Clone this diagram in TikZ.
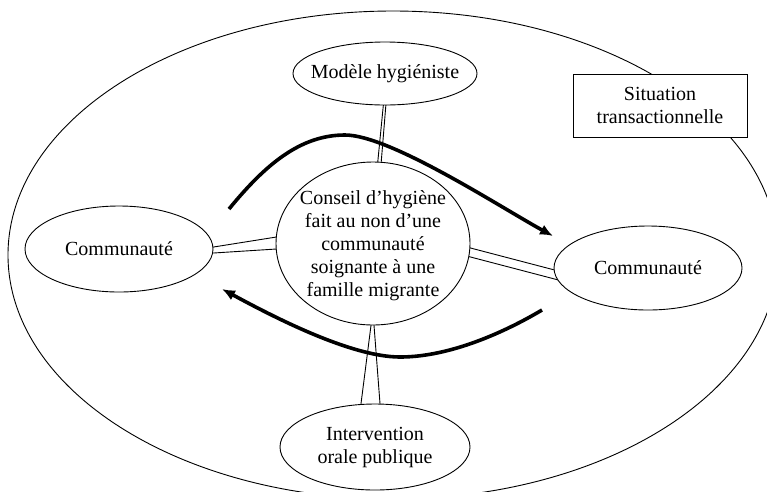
\documentclass[tikz,border=0pt]{standalone}
\usepackage{fontspec}
\setmainfont{Liberation Serif}
\usetikzlibrary{shapes.geometric,arrows.meta,calc}
\pgfdeclarelayer{background}
\pgfsetlayers{background,main}
\begin{document}
\begin{tikzpicture}[x=1pt,y=-1pt,
  ell/.style={ellipse, draw, fill=white, line width=0.9pt, inner sep=0pt},
  boxed/.style={rectangle, draw, fill=white, line width=0.9pt, inner sep=0pt},
  txt/.style={align=center, font=\fontsize{20}{23}\selectfont, inner sep=0pt},
  link/.style={line width=0.9pt},
  flow/.style={line width=3.6pt, -{Latex[length=13pt,width=11pt]}}]
\useasboundingbox (0,0) rectangle (767,491);
% nodes
\node[ell, minimum width=184pt, minimum height=63pt] (mh) at (385,73.5) {};
\node[txt] (mhT) at (mh.center) {Modèle hygiéniste};
\node[ell, minimum width=194pt, minimum height=163pt] (ce) at (373,243.5) {};
\node[txt] (ceT) at ($(ce.center)+(0,2)$) {Conseil d’hygiène\\fait au non d’une\\communauté\\soignante à une\\famille migrante};
\node[ell, minimum width=188pt, minimum height=86pt] (le) at (119,249) {};
\node[txt] (leT) at (le.center) {Communauté};
\node[ell, minimum width=188pt, minimum height=84pt] (re) at (648,268) {};
\node[txt] (reT) at (re.center) {Communauté};
\node[ell, minimum width=190pt, minimum height=86pt] (be) at (375,447) {};
\node[txt] (beT) at (be.center) {Intervention\\orale publique};
\node[boxed, minimum width=174pt, minimum height=63pt] (sit) at (660,105.5) {};
\node[txt] (sitT) at (sit.center) {Situation\\transactionnelle};
% background: big ellipse and connectors
\begin{pgfonlayer}{background}
  \begin{scope}
    \clip (0,0) rectangle (767,491);
    \draw[line width=0.9pt] (393,255) ellipse [x radius=385pt, y radius=244pt];
  \end{scope}
  % top connector
  \draw[link] ($(mh.south)+(-1.5,-2)$) -- ($(ce.north)+(4.5,3)$);
  \draw[link] ($(mh.south)+(1,-2)$) -- ($(ce.north)+(8,3)$);
  % left connector
  \draw[link] ($(le.east)+(-3,-1.5)$) -- ($(ce.west)+(4,-7)$);
  \draw[link] ($(le.east)+(-3,4.2)$) -- ($(ce.west)+(4,5.3)$);
  % right connector
  \draw[link] ($(ce.east)+(-3,3.7)$) -- ($(re.west)+(6,3.3)$);
  \draw[link] ($(ce.east)+(-3,12.7)$) -- ($(re.west)+(6,12.3)$);
  % bottom connector
  \draw[link] ($(ce.south)+(-1.5,-4)$) -- ($(be.north)+(-14.5,4)$);
  \draw[link] ($(ce.south)+(0.7,-4)$) -- ($(be.north)+(5.3,4)$);
\end{pgfonlayer}
% thick flow arrows
\coordinate (u0) at (229,209);
\coordinate (u1) at (345,135);
\coordinate (u2) at (553,236);
\coordinate (d0) at (542,310);
\coordinate (d1) at (400,357);
\coordinate (d2) at (222,289);
\draw[flow] (u0) .. controls (265,165) and (300,135) .. (u1)
  .. controls (390,135) and (500,207) .. (u2);
\draw[flow] (d0) .. controls (505,332) and (450,357) .. (d1)
  .. controls (350,357) and (270,315) .. (d2);
\end{tikzpicture}
\end{document}
